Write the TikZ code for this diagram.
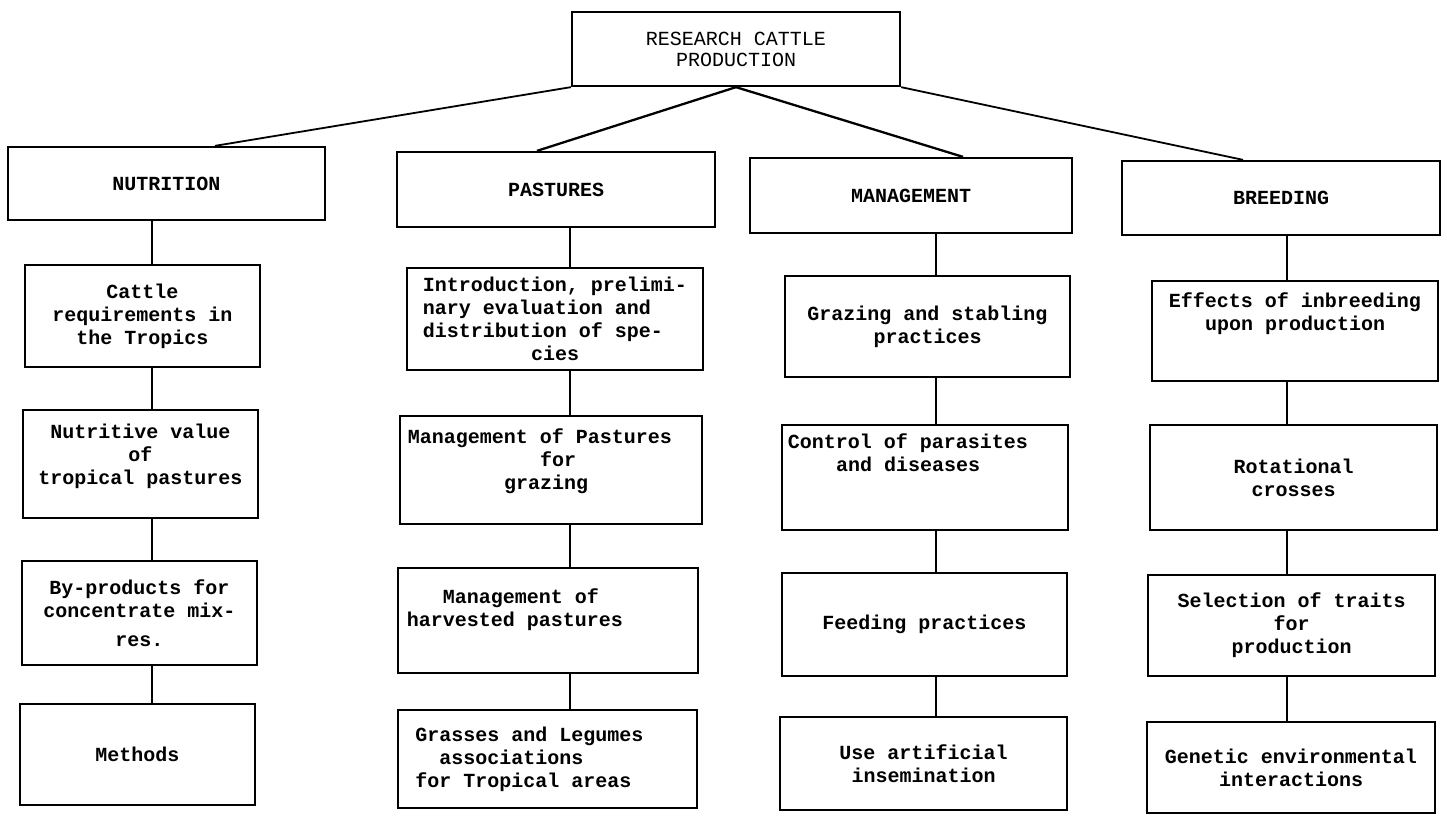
\documentclass[tikz,border=0pt]{standalone}
\usepackage{fontspec}
\setmonofont{Liberation Mono}

\begin{document}
\begin{tikzpicture}[x=1pt, y=-1pt, line width=2.3pt,
  box/.style={draw, rectangle, inner sep=2pt, align=center,
    font=\ttfamily\bfseries\fontsize{20}{23}\selectfont},
  lift/.style={text depth=#1}]
\useasboundingbox (0,0) rectangle (1447,815);

\node [box, font=\ttfamily\fontsize{20}{21}\selectfont, minimum width=328, minimum height=74] (top) at (736,49) {RESEARCH CATTLE\\PRODUCTION};

% first level
\node [box, minimum width=317, minimum height=73] (nut) at (166.5,183.5) {NUTRITION};
\node [box, minimum width=318, minimum height=75] (pas) at (556,189.5) {PASTURES};
\node [box, minimum width=322, minimum height=75] (man) at (911,195.5) {MANAGEMENT};
\node [box, minimum width=318, minimum height=74] (bre) at (1281,198) {BREEDING};

% nutrition
\node [box, minimum width=235, minimum height=102] (nut1) at (142.5,316) {Cattle\\requirements in\\the Tropics};
\node [box, minimum width=235, minimum height=108, lift=20] (nut2) at (140.5,464) {Nutritive value\\of\\tropical pastures};
\node [box, minimum width=235, minimum height=104] (nut3) at (139.5,613) {By-products for\\concentrate mix-\\[6pt]res.};
\node [box, minimum width=235, minimum height=101] (nut4) at (137.5,754.5) {Methods};

% pastures
\node [box, minimum width=296, minimum height=102, align=left] (pas1) at (555,319) {Introduction, prelimi-\\nary evaluation and\\distribution of spe-\\~~~~~~~~~cies};
\node [box, minimum width=302, minimum height=108, lift=22, align=left] (pas2) at (551,470) {Management of Pastures\hspace*{22pt}\\~~~~~~~~~~~for\\~~~~~~~~grazing};
\node [box, minimum width=300, minimum height=105, lift=26, align=left] (pas3) at (548,620.5) {~~~Management of\\harvested pastures\hspace*{66pt}};
\node [box, minimum width=299, minimum height=98, align=left] (pas4) at (547.5,759) {Grasses and Legumes\hspace*{36pt}\\~~associations\\for Tropical areas};

% management
\node [box, minimum width=285, minimum height=101] (man1) at (927.5,326.5) {Grazing and stabling\\practices};
\node [box, minimum width=286, minimum height=105, lift=50, align=left] (man2) at (925,477.5) {Control of parasites\hspace*{34pt}\\~~~~and diseases};
\node [box, minimum width=285, minimum height=103] (man3) at (924.5,624.5) {Feeding practices};
\node [box, minimum width=287, minimum height=93] (man4) at (923.5,763.5) {Use artificial\\insemination};

% breeding
\node [box, minimum width=286, minimum height=100, lift=38] (bre1) at (1295,331) {Effects of inbreeding\\upon production};
\node [box, minimum width=287, minimum height=105] (bre2) at (1293.5,477.5) {Rotational\\crosses};
\node [box, minimum width=287, minimum height=101] (bre3) at (1291.5,625.5) {Selection of traits\\for\\production};
\node [box, minimum width=288, minimum height=91] (bre4) at (1291,767.5) {Genetic environmental\\interactions};

% from the top box
\draw[line width=1.8pt] (top.south west) -- (nut.north -| 215,0);
\draw (top.south) -- (pas.north -| 537,0);
\draw (top.south) -- (man.north -| 963,0);
\draw[line width=1.8pt] (top.south east) -- (bre.north -| 1243,0);

% columns
\foreach \a/\b in {nut/nut1, nut1/nut2, nut2/nut3, nut3/nut4}
  \draw (\a.south -| 152,0) -- (\b.north -| 152,0);
\foreach \a/\b in {pas/pas1, pas1/pas2, pas2/pas3, pas3/pas4}
  \draw (\a.south -| 570,0) -- (\b.north -| 570,0);
\foreach \a/\b in {man/man1, man1/man2, man2/man3, man3/man4}
  \draw (\a.south -| 936,0) -- (\b.north -| 936,0);
\foreach \a/\b in {bre/bre1, bre1/bre2, bre2/bre3, bre3/bre4}
  \draw (\a.south -| 1287,0) -- (\b.north -| 1287,0);

\end{tikzpicture}
\end{document}
